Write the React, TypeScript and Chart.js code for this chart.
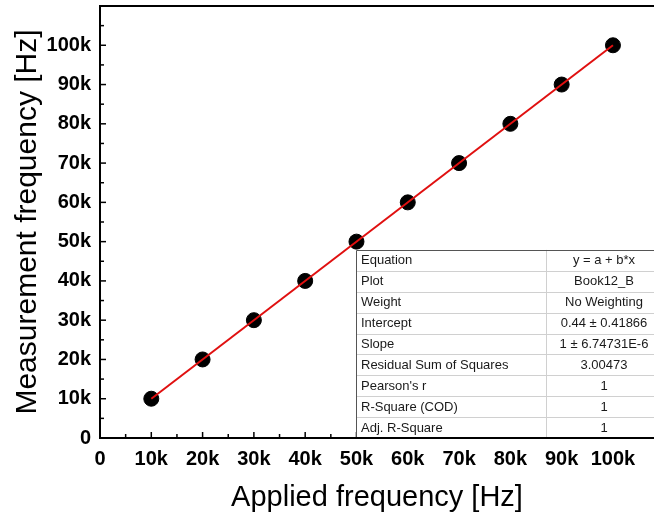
import React, { useEffect, useRef } from "react";
import { Chart, registerables } from "chart.js";

Chart.register(...registerables);

const appliedHz = [10000, 20000, 30000, 40000, 50000, 60000, 70000, 80000, 90000, 100000];
const measuredHz = [10000, 20000, 30000, 40000, 50000, 60000, 70000, 80000, 90000, 100000];
const fitIntercept = 0.44;
const fitSlope = 1;
const fitRange = [10000, 100000];
const tableLabels = [
  "Equation",
  "Plot",
  "Weight",
  "Intercept",
  "Slope",
  "Residual Sum of Squares",
  "Pearson's r",
  "R-Square (COD)",
  "Adj. R-Square",
];
const tableValues = [
  "y = a + b*x",
  "Book12_B",
  "No Weighting",
  "0.44 \u00b1 0.41866",
  "1 \u00b1 6.74731E-6",
  "3.00473",
  "1",
  "1",
  "1",
];

const FONT = "'Liberation Sans', Arial, sans-serif";

const fmtTick = (v: number) => {
  if (v % 10000 !== 0 || v > 100000) return "";
  return v === 0 ? "0" : v / 1000 + "k";
};

const innerTicks = {
  id: "innerTicks",
  afterDatasetsDraw(chart: any) {
    const { ctx, chartArea } = chart;
    const xs = chart.scales.x;
    const ys = chart.scales.y;
    ctx.save();
    ctx.strokeStyle = "#000";
    ctx.lineWidth = 1.5;
    xs.ticks.forEach((t: any) => {
      const px = xs.getPixelForValue(t.value);
      const len = t.value % 10000 === 0 ? 6 : 4;
      ctx.beginPath();
      ctx.moveTo(px, chartArea.bottom);
      ctx.lineTo(px, chartArea.bottom - len);
      ctx.stroke();
    });
    ys.ticks.forEach((t: any) => {
      if (t.value >= 110000) return;
      const py = ys.getPixelForValue(t.value);
      const len = t.value % 10000 === 0 ? 6 : 4;
      ctx.beginPath();
      ctx.moveTo(chartArea.left, py);
      ctx.lineTo(chartArea.left + len, py);
      ctx.stroke();
    });
    ctx.lineWidth = 2;
    ctx.beginPath();
    ctx.moveTo(chartArea.left - 1, chartArea.top);
    ctx.lineTo(chart.width, chartArea.top);
    ctx.stroke();
    ctx.restore();
  },
};

const statsTable = {
  id: "statsTable",
  afterDraw(chart: any) {
    const { ctx, chartArea } = chart;
    const left = 356;
    const mid = 546;
    const right = 662;
    const bottom = chartArea.bottom;
    const rowH = 20.9;
    const top = bottom - rowH * tableLabels.length;
    ctx.save();
    ctx.fillStyle = "#fff";
    ctx.fillRect(left, top, right - left, bottom - top);
    ctx.strokeStyle = "#d0d0d0";
    ctx.lineWidth = 1;
    for (let i = 1; i < tableLabels.length; i++) {
      const y = Math.round(top + i * rowH) + 0.5;
      ctx.beginPath();
      ctx.moveTo(left, y);
      ctx.lineTo(right, y);
      ctx.stroke();
    }
    ctx.beginPath();
    ctx.moveTo(mid + 0.5, top);
    ctx.lineTo(mid + 0.5, bottom);
    ctx.stroke();
    ctx.strokeStyle = "#555";
    ctx.beginPath();
    ctx.moveTo(left + 0.5, bottom);
    ctx.lineTo(left + 0.5, Math.round(top) + 0.5);
    ctx.lineTo(right, Math.round(top) + 0.5);
    ctx.stroke();
    ctx.fillStyle = "#1a1a1a";
    ctx.font = "13px " + FONT;
    ctx.textBaseline = "middle";
    tableLabels.forEach((lab, i) => {
      const cy = top + i * rowH + rowH / 2 + 0.5;
      ctx.textAlign = "left";
      ctx.fillText(lab, left + 5, cy);
      ctx.textAlign = "center";
      ctx.fillText(tableValues[i], (mid + right) / 2, cy);
    });
    ctx.strokeStyle = "#000";
    ctx.lineWidth = 2;
    ctx.beginPath();
    ctx.moveTo(left - 2, bottom);
    ctx.lineTo(right, bottom);
    ctx.stroke();
    ctx.restore();
  },
};

export default function App() {
  const ref = useRef<HTMLCanvasElement | null>(null);
  useEffect(() => {
    if (!ref.current) return;
    const fitData = fitRange.map((x) => ({ x, y: fitIntercept + fitSlope * x }));
    const chart = new Chart(ref.current, {
      type: "scatter",
      data: {
        datasets: [
          {
            label: "Fit",
            type: "line",
            data: fitData,
            borderColor: "#e01010",
            borderWidth: 2,
            pointRadius: 0,
            fill: false,
            order: 0,
          } as any,
          {
            label: "Book12_B",
            data: appliedHz.map((x, i) => ({ x, y: measuredHz[i] })),
            backgroundColor: "#000",
            borderColor: "#000",
            pointRadius: 7.5,
            pointHoverRadius: 7.5,
            order: 1,
          },
        ],
      },
      options: {
        animation: false,
        responsive: false,
        maintainAspectRatio: false,
        events: [],
        layout: { autoPadding: false, padding: { top: 6, right: 0, left: 0, bottom: 0 } },
        plugins: { legend: { display: false }, tooltip: { enabled: false } },
        scales: {
          x: {
            type: "linear",
            min: 0,
            max: 108000,
            afterFit: (s: any) => {
              s.height = 81;
              s.paddingLeft = 0;
              s.paddingRight = 0;
              s.paddingTop = 0;
              s.paddingBottom = 0;
            },
            afterBuildTicks: (s: any) => {
              const t = [];
              for (let v = 0; v <= 105000; v += 5000) t.push({ value: v });
              s.ticks = t;
            },
            ticks: {
              callback: (v: any) => fmtTick(Number(v)),
              autoSkip: false,
              maxRotation: 0,
              padding: 9,
              color: "#000",
              font: { family: FONT, size: 20, weight: "bold" },
            },
            grid: { display: false, drawTicks: false },
            border: { display: true, color: "#000", width: 2 },
            title: {
              display: true,
              text: "Applied frequency [Hz]",
              color: "#000",
              font: { family: FONT, size: 29 },
              padding: { top: 0, bottom: 4 },
            },
          },
          y: {
            type: "linear",
            min: 0,
            max: 110000,
            afterFit: (s: any) => {
              s.width = 100;
              s.paddingLeft = 0;
              s.paddingRight = 0;
              s.paddingTop = 0;
              s.paddingBottom = 0;
            },
            afterBuildTicks: (s: any) => {
              const t = [];
              for (let v = 0; v <= 110000; v += 5000) t.push({ value: v });
              s.ticks = t;
            },
            ticks: {
              callback: (v: any) => fmtTick(Number(v)),
              autoSkip: false,
              padding: 9,
              color: "#000",
              font: { family: FONT, size: 20, weight: "bold" },
            },
            grid: { display: false, drawTicks: false },
            border: { display: true, color: "#000", width: 2 },
            title: {
              display: true,
              text: "Measurement frequency [Hz]",
              color: "#000",
              font: { family: FONT, size: 30 },
              padding: { top: 10, bottom: 0 },
            },
          },
        },
      },
      plugins: [innerTicks, statsTable],
    });
    return () => chart.destroy();
  }, []);
  return (
    <div style={{ position: "absolute", left: 0, top: 0, width: 654, height: 519, background: "#fff" }}>
      <canvas ref={ref} width={654} height={519} style={{ display: "block" }} />
    </div>
  );
}
